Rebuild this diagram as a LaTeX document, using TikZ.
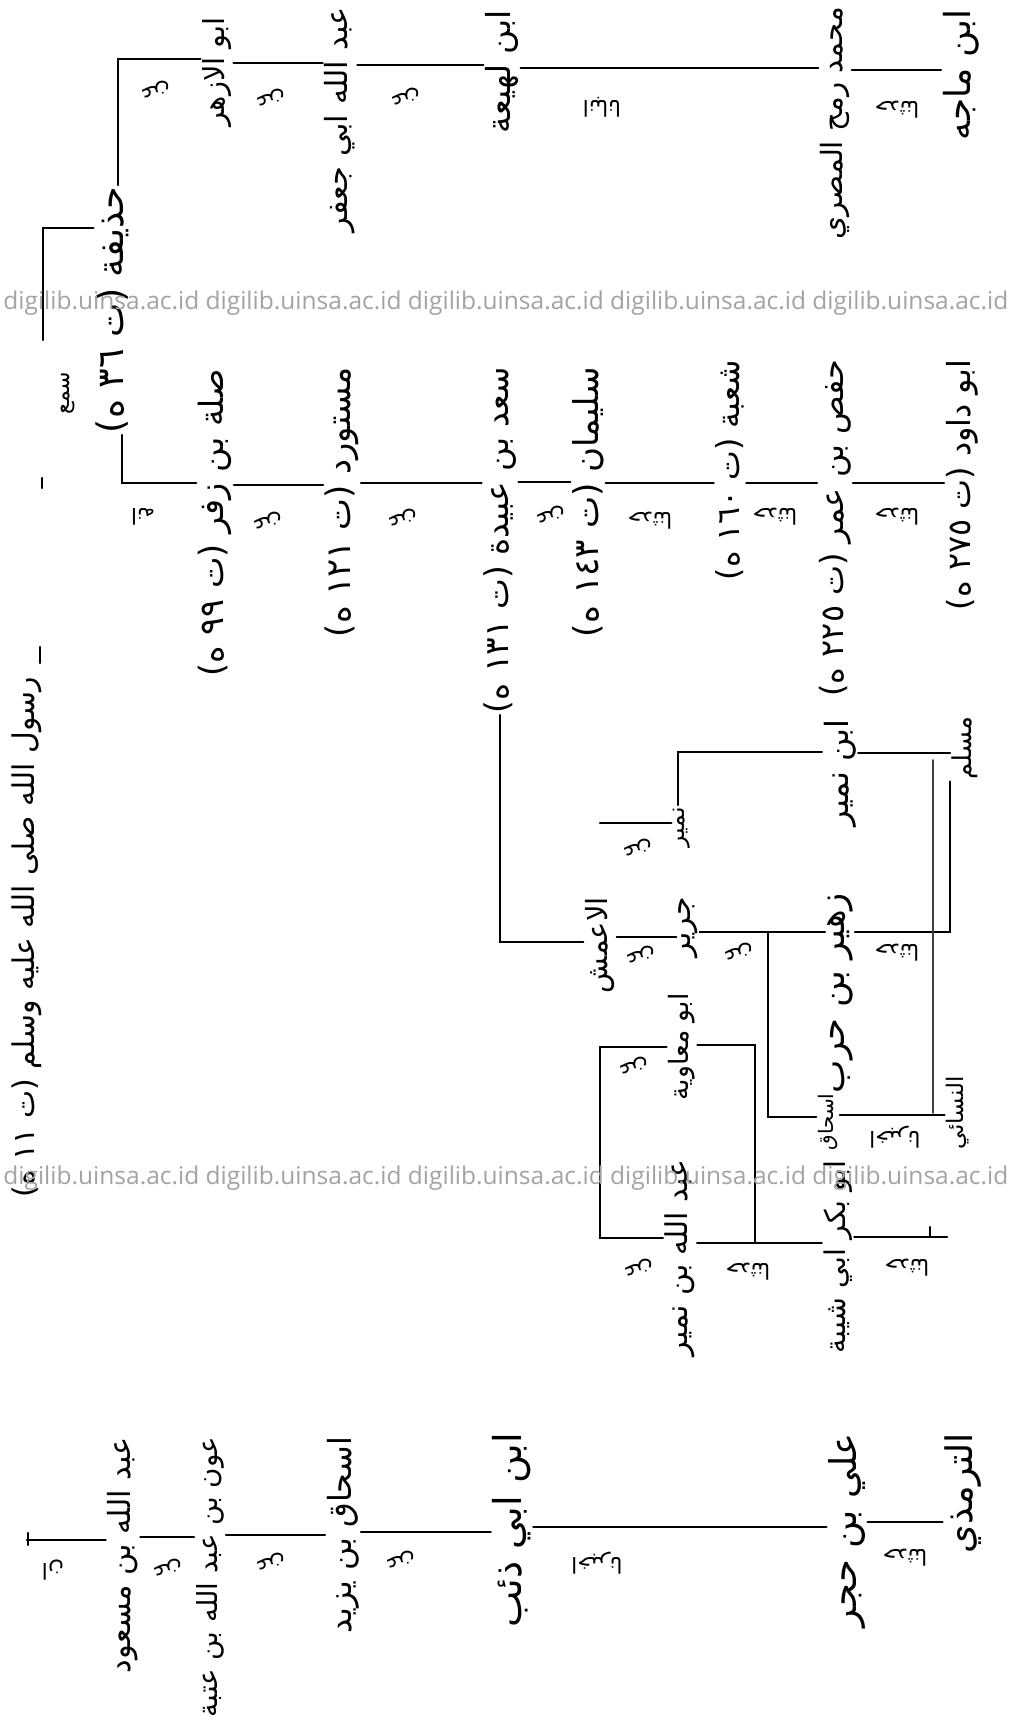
\documentclass[tikz,border=0pt]{standalone}
\usepackage{graphicx}
\usepackage{fontspec}
\setmainfont{DejaVu Sans}
\newfontfamily\arabicfont[Script=Arabic]{DejaVu Sans}
\newfontfamily\wmfont{Open Sans}
\TeXXeTstate=1
\newdimen\pxu
\pxu=0.5pt
\newcommand\nm[2]{\resizebox{#1\pxu}{!}{\arabicfont\fontsize{14}{16}\selectfont #2}}
\newcommand\lbl[1]{{\arabicfont\fontsize{11}{13}\selectfont #1}}
\definecolor{wm}{HTML}{A3A3A3}
\begin{document}
\begin{tikzpicture}[x=0.5pt,y=-0.5pt,
  narr/.style={rotate=90,inner sep=0pt,outer sep=1pt},
  lbx/.style={rotate=180,inner sep=0pt},
  ink/.style={line width=1.1pt,line cap=round},
  faint/.style={line width=0.8pt,line cap=round,black!75}]
\fill[white] (0,0) rectangle (1010,1723);
\useasboundingbox (0,0) rectangle (1010,1723);

% ---------- narrators ----------
\node[narr] (prophet) at (27,937) {\nm{520}{\beginR رسول الله صلى الله عليه وسلم (ت ١١ ه)\endR}};
\node[narr] (hudh) at (112,310) {\nm{246}{\beginR حذيفة (ت ٣٦ ه)\endR}};
\node[narr] (azhar) at (217,72) {\nm{110}{\beginR ابو الازهر\endR}};
\node[narr] (jafar) at (340,120) {\nm{225}{\beginR عبد الله ابي جعفر\endR}};
\node[narr] (lahia) at (502,72) {\nm{123}{\beginR ابن لهيعة\endR}};
\node[narr] (rumh) at (835,123) {\nm{233}{\beginR محمد رمح المصري\endR}};
\node[narr] (majah) at (961,75) {\nm{130}{\beginR ابن ماجه\endR}};

\node[narr] (sila) at (215,523) {\nm{307}{\beginR صلة بن زفر (ت ٩٩ ه)\endR}};
\node[narr] (must) at (342,502) {\nm{270}{\beginR مستورد (ت ١٢١ ه)\endR}};
\node[narr] (saad) at (500,540) {\nm{346}{\beginR سعد بن عبيدة (ت ١٣١ ه)\endR}};
\node[narr] (sulay) at (588,502) {\nm{270}{\beginR سليمان (ت ١٤٣ ه)\endR}};
\node[narr] (shuba) at (730,470) {\nm{220}{\beginR شعبة (ت ١٦٠ ه)\endR}};
\node[narr] (hafs) at (835,528) {\nm{337}{\beginR حفص بن عمر (ت ٢٢٥ ه)\endR}};
\node[narr] (dawud) at (962,485) {\nm{250}{\beginR ابو داود (ت ٢٧٥ ه)\endR}};

\node[narr] (amash) at (600,945) {\nm{96}{\beginR الاعمش\endR}};
\node[narr] (numayr) at (682,827) {\nm{40}{\beginR نمير\endR}};
\node[narr] (ibnnum) at (840,773) {\nm{107}{\beginR ابن نمير\endR}};
\node[narr] (muslim) at (965,748) {\nm{63}{\beginR مسلم\endR}};
\node[narr] (jarir) at (688,927) {\nm{60}{\beginR جرير\endR}};
\node[narr] (zuhayr) at (840,993) {\nm{200}{\beginR زهير بن حرب\endR}};
\node[narr] (ishaq) at (828,1122) {\nm{57}{\beginR اسحاق\endR}};
\node[narr] (nasai) at (958,1113) {\nm{73}{\beginR النسائي\endR}};
\node[narr] (muawiya) at (682,1047) {\nm{107}{\beginR ابو معاوية\endR}};
\node[narr] (abdnum) at (680,1258) {\nm{197}{\beginR عبد الله بن نمير\endR}};
\node[narr] (abubakr) at (838,1257) {\nm{193}{\beginR ابو بكر ابي شيبة\endR}};

\node[narr] (masud) at (123,1555) {\nm{236}{\beginR عبد الله بن مسعود\endR}};
\node[narr] (awn) at (210,1577) {\nm{280}{\beginR عون بن عبد الله بن عتبة\endR}};
\node[narr] (isyaz) at (343,1535) {\nm{196}{\beginR اسحاق بن يزيد\endR}};
\node[narr] (dhib) at (512,1530) {\nm{194}{\beginR ابن ابي ذئب\endR}};
\node[narr] (ali) at (847,1530) {\nm{194}{\beginR علي بن حجر\endR}};
\node[narr] (tirm) at (963,1493) {\nm{120}{\beginR الترمذي\endR}};

% ---------- connectors ----------
% Prophet -> Hudhayfa (faded line)
\coordinate (pk) at (43,340);
\draw[ink] (pk) |- (hudh.north |- 0,228);
\coordinate (pt1) at (42,478);
\coordinate (pt2) at (42,488);
\draw[ink] (pt1) -- (pt2);
\draw[ink] (prophet.east -| 40,0) ++(0,-12) -- ++(0,-16);
% Prophet -> Ibn Mas'ud
\coordinate (pb) at (27,1540);
\draw[ink] (pb) -- (masud.north |- 0,1540);
\draw[ink] (pb) ++(1,-7) -- ++(0,12);

% top chain
\draw[ink] ([xshift=3pt]hudh.east) |- (azhar.north |- 0,59);
\draw[ink] (azhar.south |- 0,63) -- (jafar.north |- 0,63);
\draw[ink] (jafar.south |- 0,65) -- (lahia.north |- 0,65);
\draw[ink] (lahia.south |- 0,68) -- (rumh.north |- 0,68);
\draw[ink] (rumh.south |- 0,70) -- (majah.north |- 0,70);

% second chain
\draw[ink] ([xshift=5pt]hudh.west) |- (sila.north |- 0,483);
\draw[ink] (sila.south |- 0,485) -- (must.north |- 0,485);
\draw[ink] (must.south |- 0,483) -- (saad.north |- 0,483);
\draw[ink] (saad.south |- 0,482) -- (sulay.north |- 0,482);
\draw[ink] (sulay.south |- 0,483) -- (shuba.north |- 0,483);
\draw[ink] (shuba.south |- 0,483) -- (hafs.north |- 0,483);
\draw[ink] (hafs.south |- 0,483) -- (dawud.north |- 0,483);

% al-A'mash branch
\draw[ink] (saad.west) |- (amash.north |- 0,942);
\draw[ink] (amash.east |- 0,823) -- (numayr.north |- 0,823);
\draw[ink] (amash.south |- 0,937) -- (jarir.north |- 0,937);
\draw[ink] (muawiya.north |- 0,1047) -| (amash.west |- 0,1140) |- (abdnum.north |- 0,1238);
\draw[ink] ([xshift=-2pt]numayr.east) |- (ibnnum.north |- 0,752);
\draw[ink] (ibnnum.south |- 0,753) -- (muslim.north |- 0,753);
\draw[ink] (jarir.south |- 0,932) -- (zuhayr.north |- 0,932);
\coordinate (jb) at (768,932);
\draw[ink] (jb) |- (ishaq.north |- 0,1117);
\draw[ink] (zuhayr.south |- 0,932) -| (muslim.north west);
\draw[ink] (ishaq.south |- 0,1115) -- (nasai.north |- 0,1115);
\coordinate (mj) at (933,760);
\coordinate (mj2) at (933,1113);
\draw[faint] (mj) -- (mj2);
\coordinate (mb) at (755,1243);
\draw[ink] (muawiya.south |- 0,1045) -| (mb);
\draw[ink] (abdnum.south |- 0,1243) -- (abubakr.north |- 0,1243);
\coordinate (mt) at (947,1237);
\draw[ink] (abubakr.south |- 0,1237) -- (mt);
\draw[ink] (mt) ++(-17,0) -- ++(0,-10);

% third chain
\draw[ink] (masud.south |- 0,1537) -- (awn.north |- 0,1537);
\draw[ink] (awn.south |- 0,1535) -- (isyaz.north |- 0,1535);
\draw[ink] (isyaz.south |- 0,1532) -- (dhib.north |- 0,1532);
\draw[ink] (dhib.south |- 0,1527) -- (ali.north |- 0,1527);
\draw[ink] (ali.south |- 0,1522) -- (tirm.north |- 0,1522);

% ---------- transmission words ----------
\node[narr] (lsm) at (68,393) {\lbl{\beginR سمع\endR}};
\node[lbx] (la1) at (155,90) {\lbl{\beginR عن\endR}};
\node[lbx] (la2) at (270,98) {\lbl{\beginR عن\endR}};
\node[lbx] (la3) at (405,97) {\lbl{\beginR عن\endR}};
\node[lbx] (la4) at (602,107) {\lbl{\beginR انبانا\endR}};
\node[lbx] (la5) at (897,110) {\lbl{\beginR حدثنا\endR}};
\node[lbx] (lb1) at (143,517) {\lbl{\beginR انه\endR}};
\node[lbx] (lb2) at (267,521) {\lbl{\beginR عن\endR}};
\node[lbx] (lb3) at (402,518) {\lbl{\beginR عن\endR}};
\node[lbx] (lb4) at (550,515) {\lbl{\beginR عن\endR}};
\node[lbx] (lb5) at (650,521) {\lbl{\beginR حدثنا\endR}};
\node[lbx] (lb6) at (775,517) {\lbl{\beginR حدثنا\endR}};
\node[lbx] (lb7) at (897,517) {\lbl{\beginR حدثنا\endR}};
\node[lbx] (lc1) at (637,848) {\lbl{\beginR عن\endR}};
\node[lbx] (lc2) at (640,955) {\lbl{\beginR عن\endR}};
\node[lbx] (lc3) at (738,952) {\lbl{\beginR عن\endR}};
\node[lbx] (lc4) at (897,953) {\lbl{\beginR حدثنا\endR}};
\node[lbx] (lc5) at (895,1137) {\lbl{\beginR اخبرنا\endR}};
\node[lbx] (lc6) at (633,1066) {\lbl{\beginR عن\endR}};
\node[lbx] (lc7) at (638,1268) {\lbl{\beginR عن\endR}};
\node[lbx] (lc8) at (748,1272) {\lbl{\beginR حدثنا\endR}};
\node[lbx] (lc9) at (907,1268) {\lbl{\beginR حدثنا\endR}};
\node[lbx] (ld1) at (53,1570) {\lbl{\beginR ان\endR}};
\node[lbx] (ld2) at (167,1568) {\lbl{\beginR عن\endR}};
\node[lbx] (ld3) at (270,1562) {\lbl{\beginR عن\endR}};
\node[lbx] (ld4) at (400,1560) {\lbl{\beginR عن\endR}};
\node[lbx] (ld5) at (597,1563) {\lbl{\beginR اخبرنا\endR}};
\node[lbx] (ld6) at (905,1558) {\lbl{\beginR حدثنا\endR}};

% ---------- watermark ----------
\node[anchor=west,inner sep=0pt,text=wm,font=\wmfont\fontsize{12.25}{13}\selectfont] (wm1) at (3,303) {digilib.uinsa.ac.id digilib.uinsa.ac.id digilib.uinsa.ac.id digilib.uinsa.ac.id digilib.uinsa.ac.id};
\node[anchor=west,inner sep=0pt,text=wm,font=\wmfont\fontsize{12.25}{13}\selectfont] (wm2) at (3,1178) {digilib.uinsa.ac.id digilib.uinsa.ac.id digilib.uinsa.ac.id digilib.uinsa.ac.id digilib.uinsa.ac.id};
\end{tikzpicture}
\end{document}
